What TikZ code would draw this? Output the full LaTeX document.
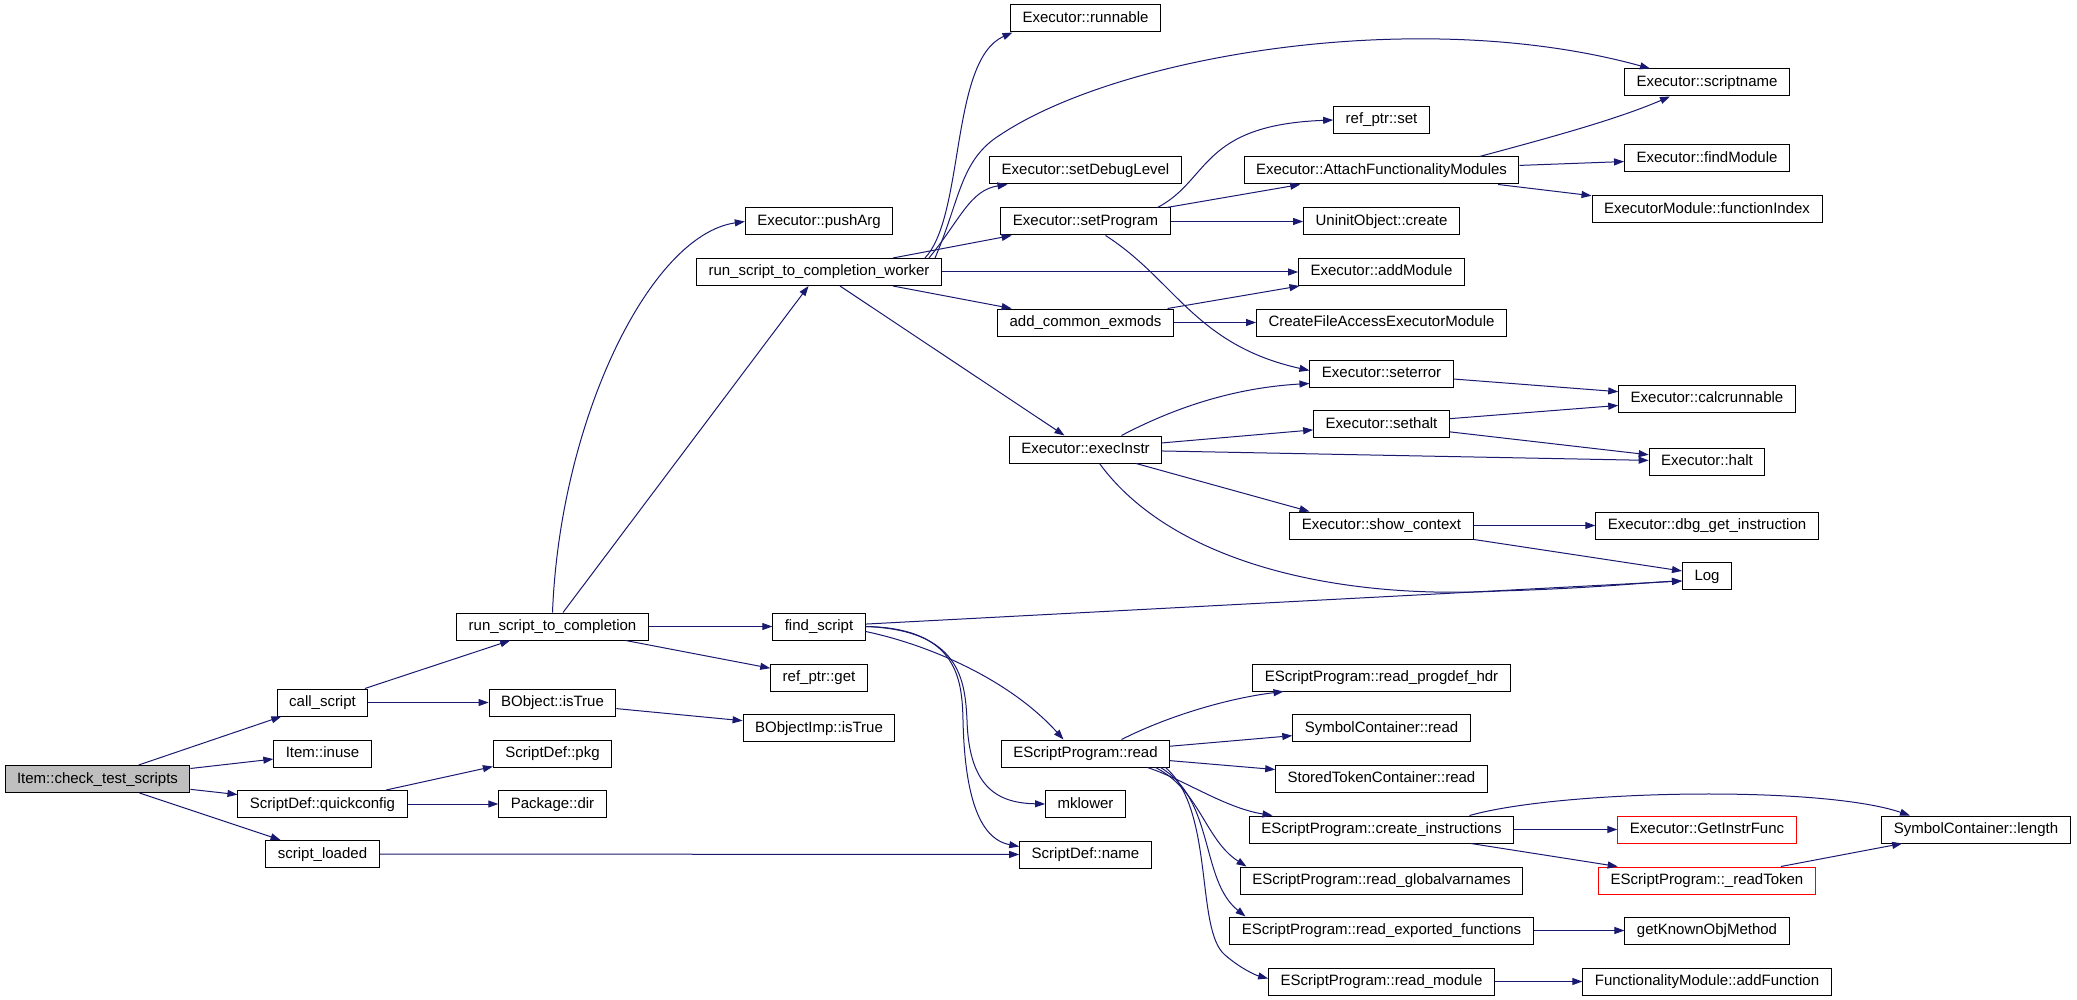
\documentclass[tikz,border=0pt]{standalone}
\usepackage{fontspec}
\setmainfont{Liberation Sans}
\usepackage{xcolor}
\usetikzlibrary{arrows.meta}
\definecolor{edgeblue}{HTML}{191970}
\definecolor{rootgray}{HTML}{BFBFBF}

\begin{document}
\begin{tikzpicture}[x=1pt,y=-1pt,>={Triangle[length=10pt,width=7pt]},
  fn/.style={draw,line width=1pt,font=\fontsize{15}{18}\selectfont,inner xsep=12pt,inner ysep=0pt,
    minimum height=27pt,text height=11pt,text depth=3pt},
  undoc/.style={fn,draw=red},
  arr/.style={->,draw=edgeblue,line width=1pt}]

\useasboundingbox (0,0) rectangle (2077,1000);

% callers, left to right
\node(item) at (97.5,779)[fn,fill=rootgray] {Item::check\_test\_scripts};
\node(callscript) at (322.5,702.5)[fn] {call\_script};
\node(inuse) at (322.5,753.5)[fn] {Item::inuse};
\node(quickcfg) at (322.5,804)[fn] {ScriptDef::quickconfig};
\node(scriptloaded) at (322.5,854)[fn] {script\_loaded};

\node(rstc) at (552.5,626.5)[fn] {run\_script\_to\_completion};
\node(bobj) at (552.5,702.5)[fn] {BObject::isTrue};
\node(pkg) at (552.5,753.5)[fn] {ScriptDef::pkg};
\node(pkgdir) at (552.5,804)[fn] {Package::dir};

\node(pusharg) at (819,221.5)[fn] {Executor::pushArg};
\node(worker) at (819,272)[fn] {run\_script\_to\_completion\_worker};
\node(findscript) at (819,626.5)[fn] {find\_script};
\node(refget) at (819,677.5)[fn] {ref\_ptr::get};
\node(bobjimp) at (819,728)[fn] {BObjectImp::isTrue};

\node(runnable) at (1085.5,18.5)[fn] {Executor::runnable};
\node(setdebug) at (1085.5,170.5)[fn] {Executor::setDebugLevel};
\node(setprog) at (1085.5,221.5)[fn] {Executor::setProgram};
\node(acm) at (1085.5,322.5)[fn] {add\_common\_exmods};
\node(execinstr) at (1085.5,449.5)[fn] {Executor::execInstr};
\node(escriptread) at (1085.5,753.5)[fn] {EScriptProgram::read};
\node(mklower) at (1085.5,804)[fn] {mklower};
\node(sdname) at (1085.5,854.5)[fn] {ScriptDef::name};

\node(refset) at (1381.5,120)[fn] {ref\_ptr::set};
\node(attach) at (1381.5,170.5)[fn] {Executor::AttachFunctionalityModules};
\node(uninit) at (1381.5,221.5)[fn] {UninitObject::create};
\node(addmod) at (1381.5,272)[fn] {Executor::addModule};
\node(createfile) at (1381.5,322.5)[fn] {CreateFileAccessExecutorModule};
\node(seterror) at (1381.5,373.5)[fn] {Executor::seterror};
\node(sethalt) at (1381.5,424)[fn] {Executor::sethalt};
\node(showctx) at (1381.5,525.5)[fn] {Executor::show\_context};
\node(progdef) at (1381.5,677.5)[fn] {EScriptProgram::read\_progdef\_hdr};
\node(symread) at (1381.5,728)[fn] {SymbolContainer::read};
\node(storedtok) at (1381.5,778.5)[fn] {StoredTokenContainer::read};
\node(createinstr) at (1381.5,829.5)[fn] {EScriptProgram::create\_instructions};
\node(globalvar) at (1381.5,880.5)[fn] {EScriptProgram::read\_globalvarnames};
\node(exported) at (1381.5,930.5)[fn] {EScriptProgram::read\_exported\_functions};
\node(readmodule) at (1381.5,981.5)[fn] {EScriptProgram::read\_module};

\node(scriptname) at (1707,82.5)[fn] {Executor::scriptname};
\node(findmod) at (1707,158.5)[fn] {Executor::findModule};
\node(funcidx) at (1707,209.5)[fn] {ExecutorModule::functionIndex};
\node(calcrun) at (1707,398.5)[fn] {Executor::calcrunnable};
\node(halt) at (1707,461.5)[fn] {Executor::halt};
\node(dbg) at (1707,525.5)[fn] {Executor::dbg\_get\_instruction};
\node(log) at (1707,576)[fn] {Log};
\node(getinstr) at (1707,829.5)[undoc] {Executor::GetInstrFunc};
\node(readtoken) at (1707,880.5)[undoc] {EScriptProgram::\_readToken};
\node(getknown) at (1707,930.5)[fn] {getKnownObjMethod};
\node(addfunc) at (1707,981.5)[fn] {FunctionalityModule::addFunction};

\node(symlength) at (1976,829.5)[fn] {SymbolContainer::length};

% calls
\draw[arr] (item) -- (callscript);
\draw[arr] (item) -- (inuse);
\draw[arr] (item) -- (quickcfg);
\draw[arr] (item) -- (scriptloaded);
\draw[arr] (callscript) -- (rstc);
\draw[arr] (callscript) -- (bobj);
\draw[arr] (bobj) -- (bobjimp);
\draw[arr] (quickcfg) -- (pkg);
\draw[arr] (quickcfg) -- (pkgdir);
\draw[arr] (scriptloaded) -- (sdname);

\draw[arr] (rstc.north) .. controls (560,420) and (650,235) .. (pusharg.west);
\draw[arr] (rstc) -- (worker);
\draw[arr] (rstc) -- (findscript);
\draw[arr] (rstc) -- (refget);

\draw[arr] ([xshift=106pt]worker.north) .. controls (965,215) and (950,60) .. ([xshift=-73pt]runnable.south);
\draw[arr] ([xshift=116pt]worker.north) .. controls (960,200) and (960,160) .. (1000,135)
  .. controls (1120,55) and (1420,5) .. ([xshift=-57pt]scriptname.north);
\draw[arr] ([xshift=110pt]worker.north) .. controls (960,220) and (970,190) .. ([xshift=-78pt]setdebug.south);
\draw[arr] (worker) -- (setprog);
\draw[arr] (worker) -- (addmod);
\draw[arr] (worker) -- (acm);
\draw[arr] (worker) -- (execinstr);

\draw[arr] ([xshift=72pt]setprog.north) .. controls (1210,180) and (1200,125) .. (refset.west);
\draw[arr] (setprog) -- (attach);
\draw[arr] (setprog) -- (uninit);
\draw[arr] ([xshift=20pt]setprog.south) .. controls (1175,280) and (1195,345) .. ([yshift=3pt]seterror.west);

\draw[arr] ([xshift=98pt]attach.north) .. controls (1560,135) and (1620,118) .. ([xshift=-37pt]scriptname.south);
\draw[arr] (attach) -- (findmod);
\draw[arr] (attach) -- (funcidx);

\draw[arr] (acm) -- (addmod);
\draw[arr] (acm) -- (createfile);

\draw[arr] ([xshift=36pt]execinstr.north) .. controls (1170,410) and (1230,388) .. ([yshift=-10pt]seterror.west);
\draw[arr] (execinstr) -- (sethalt);
\draw[arr] (execinstr) -- (halt);
\draw[arr] (execinstr) -- ([xshift=-72pt]showctx.north);
\draw[arr] ([xshift=14pt]execinstr.south) .. controls (1170,560) and (1330,600) .. (1500,591)
  .. controls (1600,588) and (1650,582) .. ([yshift=-5pt]log.west);

\draw[arr] (seterror) -- (calcrun);
\draw[arr] (sethalt) -- (calcrun);
\draw[arr] (sethalt) -- (halt);
\draw[arr] (showctx) -- (dbg);
\draw[arr] (showctx) -- ([yshift=5pt]log.west);

\draw[arr] (findscript) -- ([yshift=-5pt]log.west);
\draw[arr] ([yshift=-5pt]findscript.east) .. controls (930,645) and (1010,680) .. ([xshift=-22pt]escriptread.north);
\draw[arr] (findscript.east) .. controls (960,630) and (965,680) .. (967,720)
  .. controls (969,790) and (1000,803) .. (mklower.west);
\draw[arr] (findscript.east) .. controls (958,628) and (962,680) .. (963,720)
  .. controls (965,810) and (985,840) .. ([yshift=8pt]sdname.west);

\draw[arr] ([xshift=36pt]escriptread.north) .. controls (1170,715) and (1230,698) .. ([xshift=-98pt]progdef.south);
\draw[arr] (escriptread) -- (symread);
\draw[arr] (escriptread) -- (storedtok);
\draw[arr] ([xshift=62pt]escriptread.south) .. controls (1185,780) and (1225,808) .. ([xshift=-109pt]createinstr.north);
\draw[arr] ([xshift=70pt]escriptread.south) .. controls (1200,790) and (1205,840) .. ([xshift=-135pt]globalvar.north);
\draw[arr] ([xshift=75pt]escriptread.south) .. controls (1215,800) and (1200,880) .. ([xshift=-136pt]exported.north);
\draw[arr] ([xshift=80pt]escriptread.south) .. controls (1215,810) and (1195,930) .. (1225,955)
  .. controls (1240,968) and (1255,975) .. ([yshift=3pt]readmodule.west);

\draw[arr] (createinstr) -- (getinstr);
\draw[arr] (createinstr) -- (readtoken);
\draw[arr] ([xshift=88pt]createinstr.north) .. controls (1560,790) and (1820,785) .. ([xshift=-66pt]symlength.north);
\draw[arr] (readtoken) -- (symlength);
\draw[arr] (exported) -- (getknown);
\draw[arr] (readmodule) -- (addfunc);

\end{tikzpicture}
\end{document}
